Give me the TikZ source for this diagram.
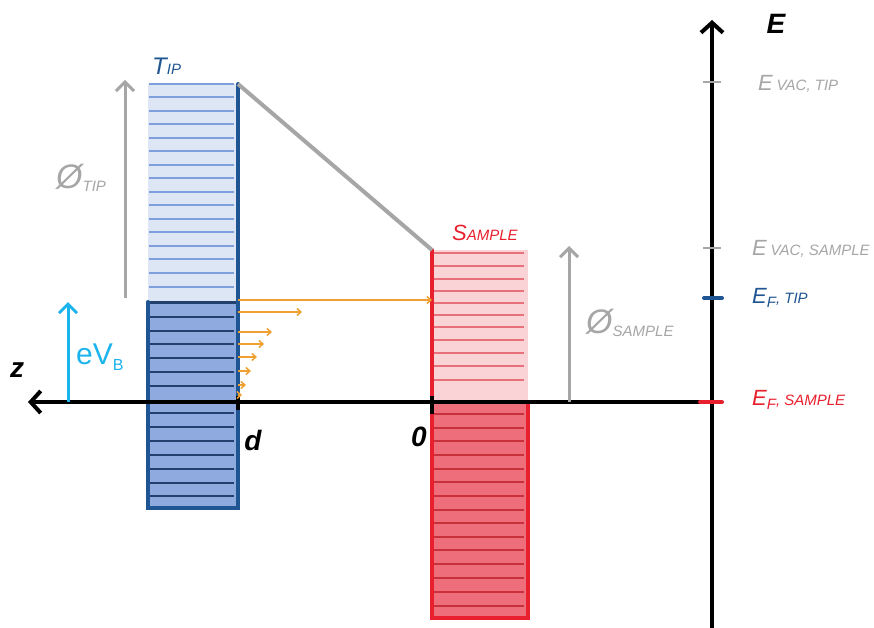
\documentclass[tikz,border=0pt]{standalone}
\usepackage{fontspec}
\setmainfont{Liberation Sans}
\usetikzlibrary{arrows.meta}
\definecolor{tipdark}{HTML}{1F5592}
\definecolor{tiplight}{HTML}{DCE6F5}
\definecolor{tiplinec}{HTML}{7F9FDC}
\definecolor{tipmid}{HTML}{8EAADE}
\definecolor{tipdarkline}{HTML}{24406F}
\definecolor{samplight}{HTML}{F9D3D6}
\definecolor{samplinec}{HTML}{E8707A}
\definecolor{sampdark}{HTML}{EE6F7B}
\definecolor{sampdarkline}{HTML}{C8303C}
\definecolor{sampborder}{HTML}{E8202E}
\definecolor{grayc}{HTML}{A6A6A6}
\definecolor{cyanc}{HTML}{1CB4EC}
\definecolor{orangec}{HTML}{F0A030}
\tikzset{
  tipline/.style={tiplinec,line width=1.6pt},
  tipdline/.style={tipdarkline,line width=1.8pt},
  samline/.style={samplinec,line width=1.6pt},
  samdline/.style={sampdarkline,line width=1.6pt},
  tipborder/.style={tipdark,line width=4pt,line cap=round},
  samborder/.style={sampborder,line width=4pt,line cap=round},
  axisline/.style={black,line width=4pt},
  grayarrow/.style={grayc,line width=3pt,-{Straight Barb[length=9pt,width=18pt,line width=3pt]}},
  tunnel/.style={orangec,line width=1.5pt,-{Straight Barb[length=4pt,width=7pt,line width=1.5pt]}},
  lab/.style={inner sep=0pt,font=\fontsize{22}{22}\selectfont\itshape},
  boldlab/.style={inner sep=0pt,font=\fontsize{28}{28}\selectfont\bfseries\itshape},
}
\newcommand{\smc}[1]{{\fontsize{15}{15}\selectfont #1}}
\begin{document}
\begin{tikzpicture}[x=1pt,y=-1pt]
\useasboundingbox[fill=white] (0,0) rectangle (874,628);
% key points
\coordinate (tipTL) at (148,84);
\coordinate (tipTR) at (238,84);
\coordinate (tipML) at (148,302);
\coordinate (tipMR) at (238,302);
\coordinate (tipBL) at (148,508);
\coordinate (tipBR) at (238,508);
\coordinate (samTL) at (432,250);
\coordinate (samTR) at (528,250);
\coordinate (samML) at (432,402);
\coordinate (samMR) at (528,402);
\coordinate (samBL) at (432,618);
\coordinate (samBR) at (528,618);
\coordinate (zEnd) at (28,402);
\coordinate (origin) at (712,402);
\coordinate (eTop) at (712,20);
\coordinate (eBot) at (712,628);
% tip
\fill[tiplight] (tipTL) rectangle (tipMR);
\fill[tipmid] (tipML) rectangle (tipBR);
\foreach \y in {84,97,111,124,138,151,165,178,192,205,219,232,246,259,273,287}
  \draw[tipline] (149,\y) -- (234,\y);
\foreach \y in {317,331,344,358,372,386,413,427,441,455,469,483,496}
  \draw[tipdline] (149,\y) -- (234,\y);
\draw[tipdline,line width=3pt] (tipML) -- (tipMR);
\draw[tipborder] (tipML) -- (tipBL) -- (tipBR) -- (tipTR);
% sample
\fill[samplight] (samTL) rectangle (samMR);
\fill[sampdark] (samML) rectangle (samBR);
\foreach \y in {253,266,279,291,303,315,327,340,353,366,380}
  \draw[samline] (434,\y) -- (524,\y);
\foreach \y in {414,428,441,455,469,482,496,510,523,537,550,564,578,592,606}
  \draw[samdline] (434,\y) -- (524,\y);
\draw[samborder] (samTL) -- (samBL) -- (samBR) -- (samMR);
% vacuum barrier
\draw[grayc,line width=4pt] (tipTR) -- (samTL);
% axes
\draw[axisline,-{Straight Barb[length=10pt,width=22pt,line width=4pt]}] (origin) -- (zEnd);
\draw[axisline,-{Straight Barb[length=10pt,width=22pt,line width=4pt]}] (eBot) -- (eTop);
\draw[black,line width=4pt] (238,396) -- (238,410);
\draw[black,line width=4pt] (432,396) -- (432,414);
% energy ticks
\draw[grayc,line width=2.5pt] (703,82) -- (721,82);
\draw[grayc,line width=2.5pt] (703,248) -- (721,248);
\draw[tipdark,line width=4pt,line cap=round] (704,298) -- (722,298);
\draw[sampborder,line width=4pt,line cap=round] (700,402) -- (722,402);
% work function arrows
\coordinate (phiTipBot) at (125,298);
\coordinate (phiTipTop) at (125,80);
\draw[grayarrow] (phiTipBot) -- (phiTipTop);
\coordinate (phiSamBot) at (569,402);
\coordinate (phiSamTop) at (569,246);
\draw[grayarrow] (phiSamBot) -- (phiSamTop);
\coordinate (evBot) at (68,402);
\coordinate (evTop) at (68,302);
\draw[cyanc,line width=3pt,-{Straight Barb[length=9pt,width=18pt,line width=3pt]}] (evBot) -- (evTop);
% tunnelling arrows
\coordinate (t0) at (238,300);
\coordinate (t0e) at (432,300);
\draw[tunnel] (t0) -- (t0e);
\foreach \y/\x in {312/302,332/272,344/264,357/257,371/251,385/246,395/242}
  \draw[tunnel] (238,\y) -- (\x,\y);
% labels
\node[lab,anchor=west,text=tipdark,font=\fontsize{24}{24}\selectfont\itshape] (tipLab) at (152,66) {T\smc{IP}};
\node[lab,anchor=west,text=sampborder] (samLab) at (452,233) {S\smc{AMPLE}};
\node[lab,anchor=west,text=grayc,font=\fontsize{34}{34}\selectfont\itshape] (phiTipLab) at (56,178) {Ø\raisebox{-3pt}{\smc{TIP}}};
\node[lab,anchor=west,text=grayc,font=\fontsize{34}{34}\selectfont\itshape] (phiSamLab) at (586,323) {Ø\raisebox{-3pt}{\smc{SAMPLE}}};
\node[lab,anchor=west,text=cyanc,font=\fontsize{30}{30}\selectfont] (evLab) at (76,357) {eV\raisebox{-6pt}{\fontsize{16}{16}\selectfont B}};
\node[boldlab] (zLab) at (17,370) {z};
\node[boldlab] (dLab) at (253,440) {d};
\node[boldlab] (oLab) at (419,437) {0};
\node[boldlab] (eLab) at (776,24) {E};
\node[lab,anchor=west,text=grayc] (evt) at (758,84) {E\,\smc{VAC, TIP}};
\node[lab,anchor=west,text=grayc] (evs) at (752,249) {E\,\smc{VAC, SAMPLE}};
\node[lab,anchor=west,text=tipdark] (eft) at (752,298) {E\raisebox{-4pt}{\smc{F}}\smc{, TIP}};
\node[lab,anchor=west,text=sampborder] (efs) at (752,400) {E\raisebox{-4pt}{\smc{F}}\smc{, SAMPLE}};
\end{tikzpicture}
\end{document}
